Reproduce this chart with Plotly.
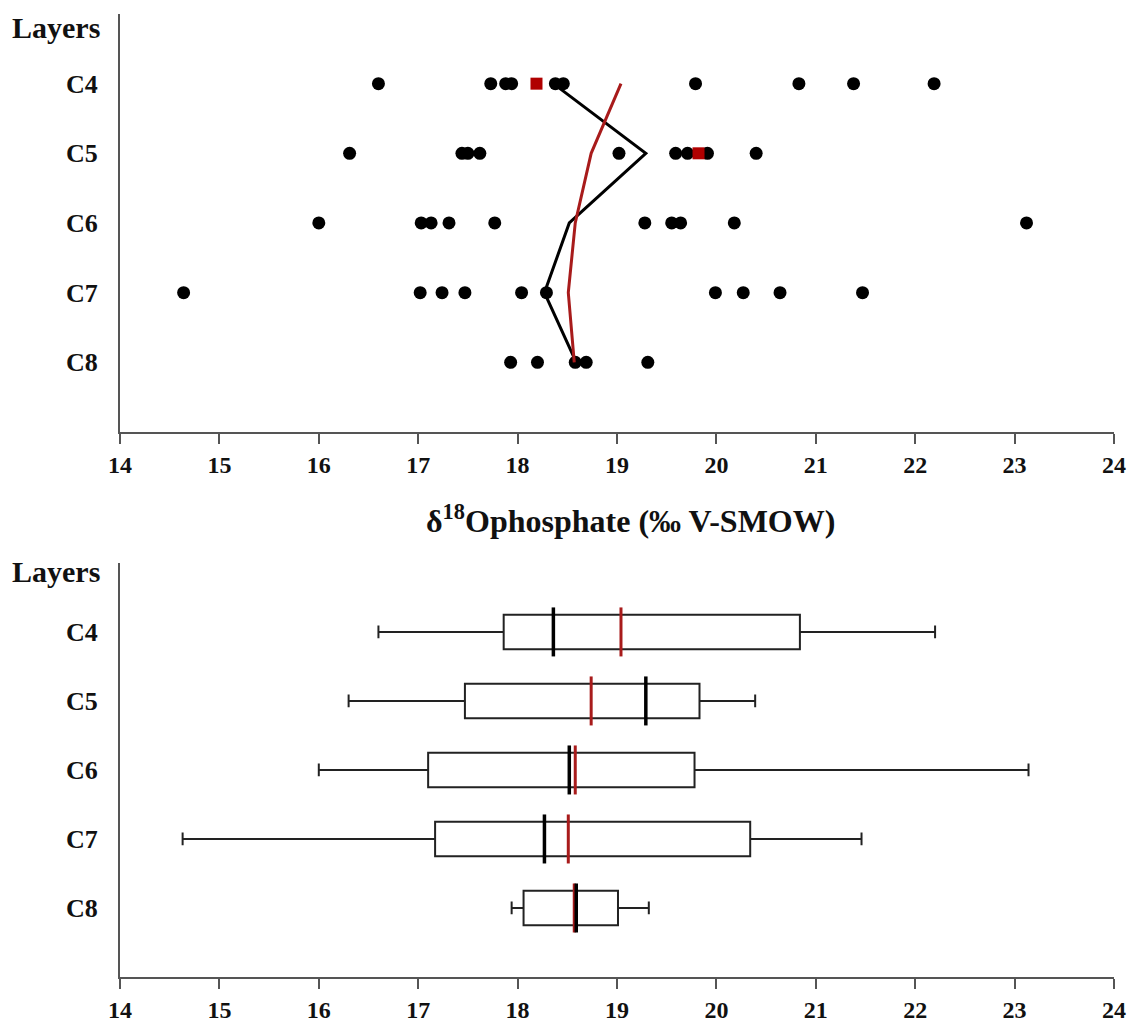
import plotly.graph_objects as go

layers = ["C4", "C5", "C6", "C7", "C8"]
ypos = [1, 2, 3, 4, 5]

# individual measurements (black dots) per layer
c4_vals = [16.60, 17.73, 17.88, 17.94, 18.38, 18.46, 19.79, 20.83, 21.38, 22.19]
c5_vals = [16.31, 17.44, 17.50, 17.62, 19.02, 19.59, 19.71, 19.91, 20.40]
c6_vals = [16.00, 17.03, 17.13, 17.31, 17.77, 19.28, 19.55, 19.64, 20.18, 23.12]
c7_vals = [14.64, 17.02, 17.24, 17.47, 18.04, 18.29, 19.99, 20.27, 20.64, 21.47]
c8_vals = [17.93, 18.20, 18.58, 18.69, 19.31]
# highlighted samples (red squares)
red_layers = ["C4", "C5"]
red_vals = [18.19, 19.82]

# box statistics
lower_fence = [16.60, 16.30, 16.00, 14.63, 17.94]
q1_vals = [17.86, 17.47, 17.10, 17.17, 18.06]
median_vals = [18.36, 19.29, 18.52, 18.27, 18.59]
q3_vals = [20.84, 19.83, 19.78, 20.34, 19.01]
upper_fence = [22.20, 20.39, 23.14, 21.46, 19.32]
mean_vals = [19.04, 18.74, 18.58, 18.51, 18.57]

x_ticks = [14, 15, 16, 17, 18, 19, 20, 21, 22, 23, 24]

FONT = "Liberation Serif"
RED = "#a81b1b"
SQ = "#b00000"
AX = "#555555"

fig = go.Figure()

all_vals = [c4_vals, c5_vals, c6_vals, c7_vals, c8_vals]
for yp, vals in zip(ypos, all_vals):
    fig.add_trace(go.Scatter(x=vals, y=[yp] * len(vals), mode="markers",
                             marker=dict(color="black", size=13, symbol="circle"),
                             xaxis="x", yaxis="y", showlegend=False))

fig.add_trace(go.Scatter(x=red_vals, y=[ypos[layers.index(l)] for l in red_layers],
                         mode="markers", marker=dict(color=SQ, size=12, symbol="square"),
                         xaxis="x", yaxis="y", showlegend=False))

fig.add_trace(go.Scatter(x=median_vals, y=ypos, mode="lines",
                         line=dict(color="black", width=3),
                         xaxis="x", yaxis="y", showlegend=False))
fig.add_trace(go.Scatter(x=mean_vals, y=ypos, mode="lines",
                         line=dict(color=RED, width=3),
                         xaxis="x", yaxis="y", showlegend=False))

# bottom box plot
fig.add_trace(go.Box(y=ypos, q1=q1_vals, median=median_vals, q3=q3_vals,
                     lowerfence=lower_fence, upperfence=upper_fence,
                     orientation="h", width=0.5, whiskerwidth=0.37,
                     fillcolor="white", line=dict(color="#222222", width=2),
                     boxpoints=False, xaxis="x2", yaxis="y2", showlegend=False))
fig.add_trace(go.Scatter(x=mean_vals, y=ypos, mode="markers",
                         marker=dict(symbol="line-ns", size=35,
                                     line=dict(color=RED, width=3)),
                         xaxis="x2", yaxis="y2", showlegend=False))
fig.add_trace(go.Scatter(x=median_vals, y=ypos, mode="markers",
                         marker=dict(symbol="line-ns", size=35,
                                     line=dict(color="black", width=3.5)),
                         xaxis="x2", yaxis="y2", showlegend=False))

xaxis_common = dict(range=[14, 24], tickvals=x_ticks, ticks="outside", ticklen=10,
                    tickwidth=2, tickcolor=AX, showline=True, linecolor=AX, linewidth=2,
                    showgrid=False, zeroline=False, automargin=False,
                    tickfont=dict(family=FONT, size=24, color="#111111", weight="bold"))
yaxis_common = dict(range=[6, 0], tickvals=ypos, ticktext=layers, ticks="",
                    showline=True, linecolor=AX, linewidth=2, showgrid=False,
                    zeroline=False, ticklabelstandoff=15, automargin=False,
                    tickfont=dict(family=FONT, size=26, color="#111111", weight="bold"))

fig.update_layout(
    width=1129, height=1022,
    margin=dict(l=120, r=15, t=14, b=45, autoexpand=False),
    paper_bgcolor="white", plot_bgcolor="white",
    xaxis=dict(domain=[0, 1], anchor="y", **xaxis_common),
    yaxis=dict(domain=[0.566, 1], anchor="x", **yaxis_common),
    xaxis2=dict(domain=[0, 1], anchor="y2", **xaxis_common),
    yaxis2=dict(domain=[0, 0.43], anchor="x2", **yaxis_common),
    annotations=[
        dict(text="Layers", xref="paper", yref="y", x=0, y=0.19, xanchor="right",
             xshift=-18, showarrow=False,
             font=dict(family=FONT, size=30, color="#111111", weight="bold")),
        dict(text="Layers", xref="paper", yref="y2", x=0, y=0.13, xanchor="right",
             xshift=-18, showarrow=False,
             font=dict(family=FONT, size=30, color="#111111", weight="bold")),
        dict(text="δ<sup>18</sup>Ophosphate (‰ V-SMOW)", xref="paper", yref="paper",
             x=0.514, y=0.4756, xanchor="center", yanchor="middle", showarrow=False,
             font=dict(family=FONT, size=32, color="#111111", weight="bold")),
    ],
)

fig.write_html("out.html")
